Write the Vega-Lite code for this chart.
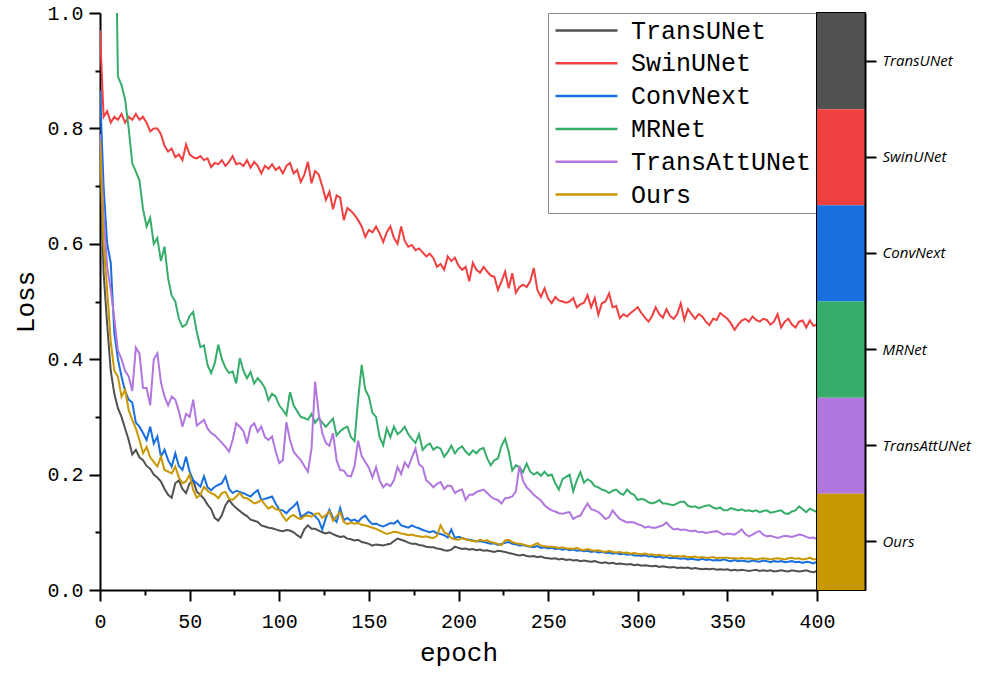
{
"$schema": "https://vega.github.io/schema/vega-lite/v6.json",
"padding": {"left": 12, "top": 3, "right": 5, "bottom": 7},
"bounds": "flush",
"spacing": 0,
"config": {"view": {"stroke": null}},
"resolve": {"scale": {"color": "independent"}, "legend": {"color": "independent"}},
"hconcat": [
{
"width": 717, "height": 577,
"data": {"values": [
{"epoch":0,"TransUNet":0.78,"SwinUNet":0.97,"ConvNext":0.866,"MRNet":2.0,"TransAttUNet":0.79,"Ours":0.78},
{"epoch":2,"TransUNet":0.55,"SwinUNet":0.82,"ConvNext":0.70,"MRNet":1.6,"TransAttUNet":0.65,"Ours":0.60},
{"epoch":4,"TransUNet":0.46,"SwinUNet":0.83,"ConvNext":0.60,"MRNet":1.35,"TransAttUNet":0.56,"Ours":0.52},
{"epoch":6,"TransUNet":0.38,"SwinUNet":0.81,"ConvNext":0.567,"MRNet":1.2,"TransAttUNet":0.52,"Ours":0.43},
{"epoch":8,"TransUNet":0.34,"SwinUNet":0.82,"ConvNext":0.445,"MRNet":1.3,"TransAttUNet":0.47,"Ours":0.38},
{"epoch":10,"TransUNet":0.315,"SwinUNet":0.815,"ConvNext":0.40,"MRNet":0.89,"TransAttUNet":0.415,"Ours":0.37},
{"epoch":12,"TransUNet":0.30,"SwinUNet":0.825,"ConvNext":0.37,"MRNet":0.875,"TransAttUNet":0.40,"Ours":0.335},
{"epoch":14,"TransUNet":0.28,"SwinUNet":0.81,"ConvNext":0.345,"MRNet":0.85,"TransAttUNet":0.38,"Ours":0.347},
{"epoch":16,"TransUNet":0.26,"SwinUNet":0.82,"ConvNext":0.33,"MRNet":0.80,"TransAttUNet":0.37,"Ours":0.312},
{"epoch":18,"TransUNet":0.235,"SwinUNet":0.815,"ConvNext":0.325,"MRNet":0.74,"TransAttUNet":0.345,"Ours":0.295},
{"epoch":20,"TransUNet":0.243,"SwinUNet":0.825,"ConvNext":0.29,"MRNet":0.725,"TransAttUNet":0.42,"Ours":0.28},
{"epoch":22,"TransUNet":0.23,"SwinUNet":0.815,"ConvNext":0.283,"MRNet":0.71,"TransAttUNet":0.41,"Ours":0.26},
{"epoch":24,"TransUNet":0.225,"SwinUNet":0.82,"ConvNext":0.272,"MRNet":0.66,"TransAttUNet":0.35,"Ours":0.237},
{"epoch":26,"TransUNet":0.215,"SwinUNet":0.81,"ConvNext":0.26,"MRNet":0.63,"TransAttUNet":0.35,"Ours":0.248},
{"epoch":28,"TransUNet":0.21,"SwinUNet":0.795,"ConvNext":0.283,"MRNet":0.645,"TransAttUNet":0.32,"Ours":0.23},
{"epoch":30,"TransUNet":0.20,"SwinUNet":0.80,"ConvNext":0.254,"MRNet":0.60,"TransAttUNet":0.40,"Ours":0.222},
{"epoch":32,"TransUNet":0.195,"SwinUNet":0.80,"ConvNext":0.266,"MRNet":0.61,"TransAttUNet":0.41,"Ours":0.214},
{"epoch":34,"TransUNet":0.188,"SwinUNet":0.79,"ConvNext":0.231,"MRNet":0.57,"TransAttUNet":0.36,"Ours":0.231},
{"epoch":36,"TransUNet":0.175,"SwinUNet":0.77,"ConvNext":0.243,"MRNet":0.595,"TransAttUNet":0.335,"Ours":0.208},
{"epoch":38,"TransUNet":0.165,"SwinUNet":0.76,"ConvNext":0.225,"MRNet":0.54,"TransAttUNet":0.32,"Ours":0.205},
{"epoch":40,"TransUNet":0.16,"SwinUNet":0.765,"ConvNext":0.214,"MRNet":0.51,"TransAttUNet":0.335,"Ours":0.202},
{"epoch":42,"TransUNet":0.185,"SwinUNet":0.75,"ConvNext":0.237,"MRNet":0.50,"TransAttUNet":0.33,"Ours":0.214},
{"epoch":44,"TransUNet":0.19,"SwinUNet":0.755,"ConvNext":0.215,"MRNet":0.47,"TransAttUNet":0.31,"Ours":0.195},
{"epoch":46,"TransUNet":0.175,"SwinUNet":0.745,"ConvNext":0.208,"MRNet":0.456,"TransAttUNet":0.283,"Ours":0.185},
{"epoch":48,"TransUNet":0.168,"SwinUNet":0.772,"ConvNext":0.231,"MRNet":0.46,"TransAttUNet":0.305,"Ours":0.188},
{"epoch":50,"TransUNet":0.185,"SwinUNet":0.755,"ConvNext":0.205,"MRNet":0.475,"TransAttUNet":0.30,"Ours":0.20},
{"epoch":52,"TransUNet":0.19,"SwinUNet":0.75,"ConvNext":0.19,"MRNet":0.482,"TransAttUNet":0.33,"Ours":0.173},
{"epoch":54,"TransUNet":0.17,"SwinUNet":0.748,"ConvNext":0.185,"MRNet":0.447,"TransAttUNet":0.285,"Ours":0.16},
{"epoch":56,"TransUNet":0.165,"SwinUNet":0.752,"ConvNext":0.179,"MRNet":0.421,"TransAttUNet":0.29,"Ours":0.165},
{"epoch":58,"TransUNet":0.158,"SwinUNet":0.745,"ConvNext":0.197,"MRNet":0.424,"TransAttUNet":0.295,"Ours":0.179},
{"epoch":60,"TransUNet":0.148,"SwinUNet":0.748,"ConvNext":0.178,"MRNet":0.39,"TransAttUNet":0.28,"Ours":0.172},
{"epoch":62,"TransUNet":0.14,"SwinUNet":0.733,"ConvNext":0.173,"MRNet":0.376,"TransAttUNet":0.272,"Ours":0.168},
{"epoch":64,"TransUNet":0.125,"SwinUNet":0.74,"ConvNext":0.179,"MRNet":0.393,"TransAttUNet":0.268,"Ours":0.165},
{"epoch":66,"TransUNet":0.12,"SwinUNet":0.738,"ConvNext":0.182,"MRNet":0.425,"TransAttUNet":0.262,"Ours":0.159},
{"epoch":68,"TransUNet":0.13,"SwinUNet":0.745,"ConvNext":0.185,"MRNet":0.40,"TransAttUNet":0.255,"Ours":0.168},
{"epoch":70,"TransUNet":0.147,"SwinUNet":0.735,"ConvNext":0.197,"MRNet":0.385,"TransAttUNet":0.248,"Ours":0.17},
{"epoch":72,"TransUNet":0.156,"SwinUNet":0.742,"ConvNext":0.175,"MRNet":0.376,"TransAttUNet":0.24,"Ours":0.158},
{"epoch":74,"TransUNet":0.148,"SwinUNet":0.752,"ConvNext":0.168,"MRNet":0.379,"TransAttUNet":0.26,"Ours":0.156},
{"epoch":76,"TransUNet":0.142,"SwinUNet":0.738,"ConvNext":0.172,"MRNet":0.358,"TransAttUNet":0.289,"Ours":0.162},
{"epoch":78,"TransUNet":0.137,"SwinUNet":0.74,"ConvNext":0.17,"MRNet":0.402,"TransAttUNet":0.283,"Ours":0.168},
{"epoch":80,"TransUNet":0.132,"SwinUNet":0.735,"ConvNext":0.168,"MRNet":0.38,"TransAttUNet":0.275,"Ours":0.16},
{"epoch":82,"TransUNet":0.128,"SwinUNet":0.745,"ConvNext":0.165,"MRNet":0.367,"TransAttUNet":0.254,"Ours":0.159},
{"epoch":84,"TransUNet":0.122,"SwinUNet":0.732,"ConvNext":0.162,"MRNet":0.378,"TransAttUNet":0.283,"Ours":0.155},
{"epoch":86,"TransUNet":0.12,"SwinUNet":0.742,"ConvNext":0.168,"MRNet":0.358,"TransAttUNet":0.289,"Ours":0.15},
{"epoch":88,"TransUNet":0.118,"SwinUNet":0.735,"ConvNext":0.173,"MRNet":0.367,"TransAttUNet":0.274,"Ours":0.152},
{"epoch":90,"TransUNet":0.112,"SwinUNet":0.722,"ConvNext":0.156,"MRNet":0.36,"TransAttUNet":0.283,"Ours":0.156},
{"epoch":92,"TransUNet":0.11,"SwinUNet":0.735,"ConvNext":0.158,"MRNet":0.35,"TransAttUNet":0.265,"Ours":0.148},
{"epoch":94,"TransUNet":0.108,"SwinUNet":0.73,"ConvNext":0.16,"MRNet":0.329,"TransAttUNet":0.26,"Ours":0.141},
{"epoch":96,"TransUNet":0.107,"SwinUNet":0.738,"ConvNext":0.162,"MRNet":0.34,"TransAttUNet":0.266,"Ours":0.145},
{"epoch":98,"TransUNet":0.105,"SwinUNet":0.728,"ConvNext":0.15,"MRNet":0.335,"TransAttUNet":0.24,"Ours":0.14},
{"epoch":100,"TransUNet":0.103,"SwinUNet":0.733,"ConvNext":0.139,"MRNet":0.32,"TransAttUNet":0.22,"Ours":0.139},
{"epoch":102,"TransUNet":0.102,"SwinUNet":0.722,"ConvNext":0.138,"MRNet":0.312,"TransAttUNet":0.225,"Ours":0.128},
{"epoch":104,"TransUNet":0.104,"SwinUNet":0.735,"ConvNext":0.133,"MRNet":0.303,"TransAttUNet":0.291,"Ours":0.12},
{"epoch":106,"TransUNet":0.103,"SwinUNet":0.74,"ConvNext":0.14,"MRNet":0.343,"TransAttUNet":0.26,"Ours":0.127},
{"epoch":108,"TransUNet":0.10,"SwinUNet":0.722,"ConvNext":0.145,"MRNet":0.32,"TransAttUNet":0.24,"Ours":0.13},
{"epoch":110,"TransUNet":0.095,"SwinUNet":0.728,"ConvNext":0.152,"MRNet":0.31,"TransAttUNet":0.232,"Ours":0.125},
{"epoch":112,"TransUNet":0.091,"SwinUNet":0.707,"ConvNext":0.127,"MRNet":0.30,"TransAttUNet":0.225,"Ours":0.123},
{"epoch":114,"TransUNet":0.105,"SwinUNet":0.72,"ConvNext":0.13,"MRNet":0.298,"TransAttUNet":0.215,"Ours":0.128},
{"epoch":116,"TransUNet":0.112,"SwinUNet":0.742,"ConvNext":0.135,"MRNet":0.295,"TransAttUNet":0.205,"Ours":0.129},
{"epoch":118,"TransUNet":0.106,"SwinUNet":0.705,"ConvNext":0.133,"MRNet":0.305,"TransAttUNet":0.245,"Ours":0.127},
{"epoch":120,"TransUNet":0.106,"SwinUNet":0.726,"ConvNext":0.128,"MRNet":0.29,"TransAttUNet":0.361,"Ours":0.132},
{"epoch":122,"TransUNet":0.103,"SwinUNet":0.72,"ConvNext":0.121,"MRNet":0.298,"TransAttUNet":0.306,"Ours":0.133},
{"epoch":124,"TransUNet":0.10,"SwinUNet":0.70,"ConvNext":0.105,"MRNet":0.29,"TransAttUNet":0.272,"Ours":0.125},
{"epoch":126,"TransUNet":0.098,"SwinUNet":0.676,"ConvNext":0.125,"MRNet":0.283,"TransAttUNet":0.255,"Ours":0.13},
{"epoch":128,"TransUNet":0.10,"SwinUNet":0.69,"ConvNext":0.139,"MRNet":0.29,"TransAttUNet":0.25,"Ours":0.136},
{"epoch":130,"TransUNet":0.097,"SwinUNet":0.66,"ConvNext":0.125,"MRNet":0.297,"TransAttUNet":0.272,"Ours":0.12},
{"epoch":132,"TransUNet":0.094,"SwinUNet":0.684,"ConvNext":0.118,"MRNet":0.268,"TransAttUNet":0.225,"Ours":0.128},
{"epoch":134,"TransUNet":0.092,"SwinUNet":0.68,"ConvNext":0.142,"MRNet":0.275,"TransAttUNet":0.208,"Ours":0.135},
{"epoch":136,"TransUNet":0.093,"SwinUNet":0.641,"ConvNext":0.121,"MRNet":0.28,"TransAttUNet":0.207,"Ours":0.118},
{"epoch":138,"TransUNet":0.089,"SwinUNet":0.662,"ConvNext":0.125,"MRNet":0.283,"TransAttUNet":0.198,"Ours":0.114},
{"epoch":140,"TransUNet":0.088,"SwinUNet":0.657,"ConvNext":0.12,"MRNet":0.265,"TransAttUNet":0.197,"Ours":0.117},
{"epoch":142,"TransUNet":0.086,"SwinUNet":0.65,"ConvNext":0.122,"MRNet":0.258,"TransAttUNet":0.215,"Ours":0.115},
{"epoch":144,"TransUNet":0.087,"SwinUNet":0.641,"ConvNext":0.118,"MRNet":0.33,"TransAttUNet":0.259,"Ours":0.116},
{"epoch":146,"TransUNet":0.083,"SwinUNet":0.63,"ConvNext":0.125,"MRNet":0.39,"TransAttUNet":0.232,"Ours":0.113},
{"epoch":148,"TransUNet":0.082,"SwinUNet":0.612,"ConvNext":0.129,"MRNet":0.347,"TransAttUNet":0.222,"Ours":0.112},
{"epoch":150,"TransUNet":0.08,"SwinUNet":0.624,"ConvNext":0.12,"MRNet":0.335,"TransAttUNet":0.212,"Ours":0.11},
{"epoch":152,"TransUNet":0.077,"SwinUNet":0.62,"ConvNext":0.114,"MRNet":0.307,"TransAttUNet":0.195,"Ours":0.108},
{"epoch":154,"TransUNet":0.079,"SwinUNet":0.63,"ConvNext":0.115,"MRNet":0.30,"TransAttUNet":0.213,"Ours":0.106},
{"epoch":156,"TransUNet":0.078,"SwinUNet":0.618,"ConvNext":0.112,"MRNet":0.265,"TransAttUNet":0.19,"Ours":0.103},
{"epoch":158,"TransUNet":0.077,"SwinUNet":0.603,"ConvNext":0.11,"MRNet":0.251,"TransAttUNet":0.178,"Ours":0.10},
{"epoch":160,"TransUNet":0.079,"SwinUNet":0.62,"ConvNext":0.113,"MRNet":0.28,"TransAttUNet":0.184,"Ours":0.097},
{"epoch":162,"TransUNet":0.08,"SwinUNet":0.63,"ConvNext":0.116,"MRNet":0.265,"TransAttUNet":0.18,"Ours":0.099},
{"epoch":164,"TransUNet":0.085,"SwinUNet":0.61,"ConvNext":0.115,"MRNet":0.283,"TransAttUNet":0.19,"Ours":0.101},
{"epoch":166,"TransUNet":0.089,"SwinUNet":0.60,"ConvNext":0.12,"MRNet":0.27,"TransAttUNet":0.213,"Ours":0.10},
{"epoch":168,"TransUNet":0.087,"SwinUNet":0.63,"ConvNext":0.112,"MRNet":0.275,"TransAttUNet":0.201,"Ours":0.098},
{"epoch":170,"TransUNet":0.085,"SwinUNet":0.605,"ConvNext":0.11,"MRNet":0.283,"TransAttUNet":0.221,"Ours":0.097},
{"epoch":172,"TransUNet":0.082,"SwinUNet":0.595,"ConvNext":0.108,"MRNet":0.27,"TransAttUNet":0.213,"Ours":0.095},
{"epoch":174,"TransUNet":0.08,"SwinUNet":0.598,"ConvNext":0.112,"MRNet":0.262,"TransAttUNet":0.23,"Ours":0.096},
{"epoch":176,"TransUNet":0.08,"SwinUNet":0.589,"ConvNext":0.109,"MRNet":0.255,"TransAttUNet":0.245,"Ours":0.094},
{"epoch":178,"TransUNet":0.078,"SwinUNet":0.592,"ConvNext":0.107,"MRNet":0.27,"TransAttUNet":0.218,"Ours":0.093},
{"epoch":180,"TransUNet":0.077,"SwinUNet":0.585,"ConvNext":0.104,"MRNet":0.243,"TransAttUNet":0.213,"Ours":0.092},
{"epoch":182,"TransUNet":0.075,"SwinUNet":0.578,"ConvNext":0.102,"MRNet":0.25,"TransAttUNet":0.19,"Ours":0.093},
{"epoch":184,"TransUNet":0.074,"SwinUNet":0.583,"ConvNext":0.10,"MRNet":0.254,"TransAttUNet":0.185,"Ours":0.091},
{"epoch":186,"TransUNet":0.074,"SwinUNet":0.575,"ConvNext":0.102,"MRNet":0.243,"TransAttUNet":0.178,"Ours":0.09},
{"epoch":188,"TransUNet":0.072,"SwinUNet":0.56,"ConvNext":0.098,"MRNet":0.248,"TransAttUNet":0.184,"Ours":0.094},
{"epoch":190,"TransUNet":0.071,"SwinUNet":0.565,"ConvNext":0.097,"MRNet":0.245,"TransAttUNet":0.187,"Ours":0.112},
{"epoch":192,"TransUNet":0.069,"SwinUNet":0.555,"ConvNext":0.095,"MRNet":0.231,"TransAttUNet":0.175,"Ours":0.10},
{"epoch":194,"TransUNet":0.068,"SwinUNet":0.578,"ConvNext":0.091,"MRNet":0.239,"TransAttUNet":0.181,"Ours":0.097},
{"epoch":196,"TransUNet":0.07,"SwinUNet":0.57,"ConvNext":0.105,"MRNet":0.25,"TransAttUNet":0.18,"Ours":0.09},
{"epoch":198,"TransUNet":0.075,"SwinUNet":0.576,"ConvNext":0.09,"MRNet":0.237,"TransAttUNet":0.168,"Ours":0.088},
{"epoch":200,"TransUNet":0.073,"SwinUNet":0.562,"ConvNext":0.092,"MRNet":0.245,"TransAttUNet":0.172,"Ours":0.087},
{"epoch":202,"TransUNet":0.071,"SwinUNet":0.555,"ConvNext":0.09,"MRNet":0.249,"TransAttUNet":0.174,"Ours":0.09},
{"epoch":204,"TransUNet":0.072,"SwinUNet":0.56,"ConvNext":0.088,"MRNet":0.24,"TransAttUNet":0.156,"Ours":0.088},
{"epoch":206,"TransUNet":0.07,"SwinUNet":0.535,"ConvNext":0.087,"MRNet":0.234,"TransAttUNet":0.165,"Ours":0.086},
{"epoch":208,"TransUNet":0.071,"SwinUNet":0.567,"ConvNext":0.086,"MRNet":0.242,"TransAttUNet":0.165,"Ours":0.085},
{"epoch":210,"TransUNet":0.069,"SwinUNet":0.555,"ConvNext":0.084,"MRNet":0.237,"TransAttUNet":0.17,"Ours":0.084},
{"epoch":212,"TransUNet":0.07,"SwinUNet":0.55,"ConvNext":0.085,"MRNet":0.244,"TransAttUNet":0.172,"Ours":0.087},
{"epoch":214,"TransUNet":0.068,"SwinUNet":0.56,"ConvNext":0.083,"MRNet":0.246,"TransAttUNet":0.174,"Ours":0.085},
{"epoch":216,"TransUNet":0.069,"SwinUNet":0.552,"ConvNext":0.082,"MRNet":0.228,"TransAttUNet":0.168,"Ours":0.086},
{"epoch":218,"TransUNet":0.067,"SwinUNet":0.545,"ConvNext":0.08,"MRNet":0.216,"TransAttUNet":0.162,"Ours":0.083},
{"epoch":220,"TransUNet":0.066,"SwinUNet":0.543,"ConvNext":0.081,"MRNet":0.225,"TransAttUNet":0.158,"Ours":0.082},
{"epoch":222,"TransUNet":0.068,"SwinUNet":0.52,"ConvNext":0.078,"MRNet":0.228,"TransAttUNet":0.156,"Ours":0.08},
{"epoch":224,"TransUNet":0.067,"SwinUNet":0.535,"ConvNext":0.08,"MRNet":0.25,"TransAttUNet":0.15,"Ours":0.078},
{"epoch":226,"TransUNet":0.066,"SwinUNet":0.552,"ConvNext":0.082,"MRNet":0.262,"TransAttUNet":0.159,"Ours":0.086},
{"epoch":228,"TransUNet":0.064,"SwinUNet":0.523,"ConvNext":0.083,"MRNet":0.24,"TransAttUNet":0.16,"Ours":0.087},
{"epoch":230,"TransUNet":0.063,"SwinUNet":0.549,"ConvNext":0.08,"MRNet":0.207,"TransAttUNet":0.162,"Ours":0.083},
{"epoch":232,"TransUNet":0.061,"SwinUNet":0.515,"ConvNext":0.079,"MRNet":0.216,"TransAttUNet":0.171,"Ours":0.081},
{"epoch":234,"TransUNet":0.06,"SwinUNet":0.525,"ConvNext":0.077,"MRNet":0.213,"TransAttUNet":0.215,"Ours":0.08},
{"epoch":236,"TransUNet":0.061,"SwinUNet":0.529,"ConvNext":0.078,"MRNet":0.204,"TransAttUNet":0.189,"Ours":0.079},
{"epoch":238,"TransUNet":0.059,"SwinUNet":0.525,"ConvNext":0.076,"MRNet":0.219,"TransAttUNet":0.178,"Ours":0.077},
{"epoch":240,"TransUNet":0.058,"SwinUNet":0.535,"ConvNext":0.075,"MRNet":0.205,"TransAttUNet":0.172,"Ours":0.075},
{"epoch":242,"TransUNet":0.059,"SwinUNet":0.558,"ConvNext":0.074,"MRNet":0.20,"TransAttUNet":0.165,"Ours":0.078},
{"epoch":244,"TransUNet":0.057,"SwinUNet":0.52,"ConvNext":0.076,"MRNet":0.204,"TransAttUNet":0.16,"Ours":0.081},
{"epoch":246,"TransUNet":0.058,"SwinUNet":0.508,"ConvNext":0.073,"MRNet":0.198,"TransAttUNet":0.155,"Ours":0.077},
{"epoch":248,"TransUNet":0.056,"SwinUNet":0.523,"ConvNext":0.074,"MRNet":0.205,"TransAttUNet":0.147,"Ours":0.076},
{"epoch":250,"TransUNet":0.055,"SwinUNet":0.505,"ConvNext":0.072,"MRNet":0.198,"TransAttUNet":0.142,"Ours":0.075},
{"epoch":252,"TransUNet":0.054,"SwinUNet":0.497,"ConvNext":0.073,"MRNet":0.20,"TransAttUNet":0.138,"Ours":0.075},
{"epoch":254,"TransUNet":0.055,"SwinUNet":0.508,"ConvNext":0.071,"MRNet":0.185,"TransAttUNet":0.136,"Ours":0.074},
{"epoch":256,"TransUNet":0.053,"SwinUNet":0.502,"ConvNext":0.072,"MRNet":0.174,"TransAttUNet":0.133,"Ours":0.073},
{"epoch":258,"TransUNet":0.054,"SwinUNet":0.50,"ConvNext":0.07,"MRNet":0.192,"TransAttUNet":0.132,"Ours":0.074},
{"epoch":260,"TransUNet":0.052,"SwinUNet":0.498,"ConvNext":0.071,"MRNet":0.196,"TransAttUNet":0.134,"Ours":0.072},
{"epoch":262,"TransUNet":0.053,"SwinUNet":0.50,"ConvNext":0.069,"MRNet":0.20,"TransAttUNet":0.135,"Ours":0.072},
{"epoch":264,"TransUNet":0.051,"SwinUNet":0.506,"ConvNext":0.07,"MRNet":0.171,"TransAttUNet":0.123,"Ours":0.071},
{"epoch":266,"TransUNet":0.052,"SwinUNet":0.49,"ConvNext":0.068,"MRNet":0.19,"TransAttUNet":0.127,"Ours":0.073},
{"epoch":268,"TransUNet":0.05,"SwinUNet":0.495,"ConvNext":0.069,"MRNet":0.204,"TransAttUNet":0.129,"Ours":0.07},
{"epoch":270,"TransUNet":0.051,"SwinUNet":0.498,"ConvNext":0.067,"MRNet":0.186,"TransAttUNet":0.14,"Ours":0.069},
{"epoch":272,"TransUNet":0.05,"SwinUNet":0.511,"ConvNext":0.068,"MRNet":0.192,"TransAttUNet":0.15,"Ours":0.071},
{"epoch":274,"TransUNet":0.049,"SwinUNet":0.49,"ConvNext":0.066,"MRNet":0.188,"TransAttUNet":0.14,"Ours":0.069},
{"epoch":276,"TransUNet":0.05,"SwinUNet":0.506,"ConvNext":0.067,"MRNet":0.18,"TransAttUNet":0.138,"Ours":0.068},
{"epoch":278,"TransUNet":0.048,"SwinUNet":0.477,"ConvNext":0.065,"MRNet":0.178,"TransAttUNet":0.135,"Ours":0.069},
{"epoch":280,"TransUNet":0.047,"SwinUNet":0.497,"ConvNext":0.066,"MRNet":0.174,"TransAttUNet":0.13,"Ours":0.067},
{"epoch":282,"TransUNet":0.048,"SwinUNet":0.50,"ConvNext":0.064,"MRNet":0.172,"TransAttUNet":0.123,"Ours":0.066},
{"epoch":284,"TransUNet":0.046,"SwinUNet":0.514,"ConvNext":0.065,"MRNet":0.168,"TransAttUNet":0.126,"Ours":0.068},
{"epoch":286,"TransUNet":0.047,"SwinUNet":0.49,"ConvNext":0.063,"MRNet":0.172,"TransAttUNet":0.138,"Ours":0.066},
{"epoch":288,"TransUNet":0.045,"SwinUNet":0.492,"ConvNext":0.064,"MRNet":0.174,"TransAttUNet":0.13,"Ours":0.065},
{"epoch":290,"TransUNet":0.046,"SwinUNet":0.471,"ConvNext":0.062,"MRNet":0.168,"TransAttUNet":0.123,"Ours":0.066},
{"epoch":292,"TransUNet":0.045,"SwinUNet":0.478,"ConvNext":0.063,"MRNet":0.165,"TransAttUNet":0.12,"Ours":0.064},
{"epoch":294,"TransUNet":0.044,"SwinUNet":0.474,"ConvNext":0.061,"MRNet":0.174,"TransAttUNet":0.117,"Ours":0.065},
{"epoch":296,"TransUNet":0.045,"SwinUNet":0.48,"ConvNext":0.062,"MRNet":0.168,"TransAttUNet":0.118,"Ours":0.063},
{"epoch":298,"TransUNet":0.043,"SwinUNet":0.485,"ConvNext":0.06,"MRNet":0.165,"TransAttUNet":0.117,"Ours":0.064},
{"epoch":300,"TransUNet":0.044,"SwinUNet":0.49,"ConvNext":0.06,"MRNet":0.156,"TransAttUNet":0.114,"Ours":0.063},
{"epoch":302,"TransUNet":0.042,"SwinUNet":0.48,"ConvNext":0.059,"MRNet":0.158,"TransAttUNet":0.112,"Ours":0.062},
{"epoch":304,"TransUNet":0.043,"SwinUNet":0.472,"ConvNext":0.06,"MRNet":0.156,"TransAttUNet":0.108,"Ours":0.063},
{"epoch":306,"TransUNet":0.042,"SwinUNet":0.465,"ConvNext":0.058,"MRNet":0.152,"TransAttUNet":0.11,"Ours":0.061},
{"epoch":308,"TransUNet":0.041,"SwinUNet":0.475,"ConvNext":0.059,"MRNet":0.15,"TransAttUNet":0.108,"Ours":0.062},
{"epoch":310,"TransUNet":0.042,"SwinUNet":0.49,"ConvNext":0.057,"MRNet":0.152,"TransAttUNet":0.108,"Ours":0.06},
{"epoch":312,"TransUNet":0.04,"SwinUNet":0.478,"ConvNext":0.058,"MRNet":0.156,"TransAttUNet":0.11,"Ours":0.061},
{"epoch":314,"TransUNet":0.041,"SwinUNet":0.472,"ConvNext":0.056,"MRNet":0.15,"TransAttUNet":0.112,"Ours":0.06},
{"epoch":316,"TransUNet":0.04,"SwinUNet":0.487,"ConvNext":0.057,"MRNet":0.15,"TransAttUNet":0.117,"Ours":0.059},
{"epoch":318,"TransUNet":0.039,"SwinUNet":0.475,"ConvNext":0.055,"MRNet":0.148,"TransAttUNet":0.11,"Ours":0.06},
{"epoch":320,"TransUNet":0.04,"SwinUNet":0.47,"ConvNext":0.056,"MRNet":0.147,"TransAttUNet":0.105,"Ours":0.058},
{"epoch":322,"TransUNet":0.038,"SwinUNet":0.478,"ConvNext":0.055,"MRNet":0.15,"TransAttUNet":0.106,"Ours":0.059},
{"epoch":324,"TransUNet":0.039,"SwinUNet":0.497,"ConvNext":0.054,"MRNet":0.153,"TransAttUNet":0.104,"Ours":0.058},
{"epoch":326,"TransUNet":0.038,"SwinUNet":0.468,"ConvNext":0.055,"MRNet":0.153,"TransAttUNet":0.105,"Ours":0.059},
{"epoch":328,"TransUNet":0.039,"SwinUNet":0.487,"ConvNext":0.053,"MRNet":0.146,"TransAttUNet":0.103,"Ours":0.057},
{"epoch":330,"TransUNet":0.037,"SwinUNet":0.478,"ConvNext":0.054,"MRNet":0.144,"TransAttUNet":0.102,"Ours":0.057},
{"epoch":332,"TransUNet":0.038,"SwinUNet":0.47,"ConvNext":0.053,"MRNet":0.145,"TransAttUNet":0.103,"Ours":0.058},
{"epoch":334,"TransUNet":0.037,"SwinUNet":0.478,"ConvNext":0.052,"MRNet":0.142,"TransAttUNet":0.10,"Ours":0.056},
{"epoch":336,"TransUNet":0.036,"SwinUNet":0.474,"ConvNext":0.054,"MRNet":0.144,"TransAttUNet":0.101,"Ours":0.057},
{"epoch":338,"TransUNet":0.037,"SwinUNet":0.465,"ConvNext":0.052,"MRNet":0.146,"TransAttUNet":0.099,"Ours":0.056},
{"epoch":340,"TransUNet":0.036,"SwinUNet":0.459,"ConvNext":0.053,"MRNet":0.147,"TransAttUNet":0.10,"Ours":0.056},
{"epoch":342,"TransUNet":0.037,"SwinUNet":0.47,"ConvNext":0.051,"MRNet":0.143,"TransAttUNet":0.101,"Ours":0.057},
{"epoch":344,"TransUNet":0.035,"SwinUNet":0.468,"ConvNext":0.052,"MRNet":0.141,"TransAttUNet":0.102,"Ours":0.055},
{"epoch":346,"TransUNet":0.036,"SwinUNet":0.48,"ConvNext":0.051,"MRNet":0.143,"TransAttUNet":0.099,"Ours":0.056},
{"epoch":348,"TransUNet":0.035,"SwinUNet":0.475,"ConvNext":0.053,"MRNet":0.138,"TransAttUNet":0.096,"Ours":0.056},
{"epoch":350,"TransUNet":0.036,"SwinUNet":0.47,"ConvNext":0.051,"MRNet":0.138,"TransAttUNet":0.098,"Ours":0.056},
{"epoch":352,"TransUNet":0.034,"SwinUNet":0.462,"ConvNext":0.05,"MRNet":0.142,"TransAttUNet":0.097,"Ours":0.055},
{"epoch":354,"TransUNet":0.035,"SwinUNet":0.451,"ConvNext":0.052,"MRNet":0.14,"TransAttUNet":0.096,"Ours":0.055},
{"epoch":356,"TransUNet":0.034,"SwinUNet":0.46,"ConvNext":0.05,"MRNet":0.138,"TransAttUNet":0.10,"Ours":0.054},
{"epoch":358,"TransUNet":0.035,"SwinUNet":0.467,"ConvNext":0.051,"MRNet":0.14,"TransAttUNet":0.105,"Ours":0.056},
{"epoch":360,"TransUNet":0.034,"SwinUNet":0.47,"ConvNext":0.05,"MRNet":0.137,"TransAttUNet":0.097,"Ours":0.054},
{"epoch":362,"TransUNet":0.033,"SwinUNet":0.465,"ConvNext":0.049,"MRNet":0.138,"TransAttUNet":0.093,"Ours":0.055},
{"epoch":364,"TransUNet":0.034,"SwinUNet":0.474,"ConvNext":0.051,"MRNet":0.136,"TransAttUNet":0.096,"Ours":0.054},
{"epoch":366,"TransUNet":0.035,"SwinUNet":0.468,"ConvNext":0.05,"MRNet":0.138,"TransAttUNet":0.10,"Ours":0.053},
{"epoch":368,"TransUNet":0.033,"SwinUNet":0.465,"ConvNext":0.049,"MRNet":0.135,"TransAttUNet":0.102,"Ours":0.054},
{"epoch":370,"TransUNet":0.034,"SwinUNet":0.47,"ConvNext":0.051,"MRNet":0.137,"TransAttUNet":0.096,"Ours":0.055},
{"epoch":372,"TransUNet":0.033,"SwinUNet":0.468,"ConvNext":0.05,"MRNet":0.138,"TransAttUNet":0.093,"Ours":0.054},
{"epoch":374,"TransUNet":0.034,"SwinUNet":0.46,"ConvNext":0.048,"MRNet":0.134,"TransAttUNet":0.094,"Ours":0.053},
{"epoch":376,"TransUNet":0.032,"SwinUNet":0.465,"ConvNext":0.05,"MRNet":0.135,"TransAttUNet":0.092,"Ours":0.054},
{"epoch":378,"TransUNet":0.033,"SwinUNet":0.478,"ConvNext":0.049,"MRNet":0.137,"TransAttUNet":0.09,"Ours":0.055},
{"epoch":380,"TransUNet":0.034,"SwinUNet":0.455,"ConvNext":0.05,"MRNet":0.138,"TransAttUNet":0.092,"Ours":0.054},
{"epoch":382,"TransUNet":0.033,"SwinUNet":0.465,"ConvNext":0.048,"MRNet":0.133,"TransAttUNet":0.094,"Ours":0.053},
{"epoch":384,"TransUNet":0.032,"SwinUNet":0.47,"ConvNext":0.049,"MRNet":0.132,"TransAttUNet":0.093,"Ours":0.055},
{"epoch":386,"TransUNet":0.034,"SwinUNet":0.46,"ConvNext":0.05,"MRNet":0.136,"TransAttUNet":0.092,"Ours":0.056},
{"epoch":388,"TransUNet":0.033,"SwinUNet":0.455,"ConvNext":0.048,"MRNet":0.138,"TransAttUNet":0.094,"Ours":0.054},
{"epoch":390,"TransUNet":0.032,"SwinUNet":0.465,"ConvNext":0.049,"MRNet":0.145,"TransAttUNet":0.096,"Ours":0.055},
{"epoch":392,"TransUNet":0.033,"SwinUNet":0.467,"ConvNext":0.047,"MRNet":0.14,"TransAttUNet":0.095,"Ours":0.053},
{"epoch":394,"TransUNet":0.034,"SwinUNet":0.455,"ConvNext":0.049,"MRNet":0.135,"TransAttUNet":0.092,"Ours":0.054},
{"epoch":396,"TransUNet":0.032,"SwinUNet":0.467,"ConvNext":0.048,"MRNet":0.141,"TransAttUNet":0.09,"Ours":0.056},
{"epoch":398,"TransUNet":0.031,"SwinUNet":0.458,"ConvNext":0.046,"MRNet":0.138,"TransAttUNet":0.091,"Ours":0.053},
{"epoch":400,"TransUNet":0.033,"SwinUNet":0.46,"ConvNext":0.049,"MRNet":0.135,"TransAttUNet":0.088,"Ours":0.054}
]},
"transform": [{"fold": ["TransUNet","SwinUNet","ConvNext","MRNet","TransAttUNet","Ours"], "as": ["model","loss"]}],
"mark": {"type": "line", "strokeWidth": 2, "clip": true},
"encoding": {
"x": {"field": "epoch", "type": "quantitative",
 "scale": {"domain": [0,400], "nice": false},
 "axis": {"values": [0,25,50,75,100,125,150,175,200,225,250,275,300,325,350,375,400],
  "labelExpr": "datum.value % 50 === 0 ? datum.label : ''",
  "tickSize": {"condition": {"test": "datum.value % 50 === 0", "value": 11}, "value": 5},
  "title": "epoch", "titleFont": "Liberation Mono", "titleFontSize": 26, "titleFontWeight": "normal", "titleColor": "black", "titlePadding": 8,
  "labelFont": "Liberation Mono", "labelFontSize": 20, "labelColor": "black", "labelPadding": 10, "labelOverlap": false, "labelFlush": false,
  "domainColor": "black", "domainWidth": 2, "tickColor": "black", "tickWidth": 2, "grid": false}},
"y": {"field": "loss", "type": "quantitative",
 "scale": {"domain": [0,1], "nice": false, "zero": false},
 "axis": {"values": [0,0.1,0.2,0.3,0.4,0.5,0.6,0.7,0.8,0.9,1.0],
  "labelExpr": "round(datum.value*10) % 2 === 0 ? format(datum.value, '.1f') : ''",
  "tickSize": {"condition": {"test": "round(datum.value*10) % 2 === 0", "value": 11}, "value": 5},
  "title": "Loss", "titleFont": "Liberation Mono", "titleFontSize": 26, "titleFontWeight": "normal", "titleColor": "black", "titlePadding": 8,
  "labelFont": "Liberation Mono", "labelFontSize": 20, "labelColor": "black", "labelPadding": 6, "labelOverlap": false, "labelFlush": false,
  "domainColor": "black", "domainWidth": 2, "tickColor": "black", "tickWidth": 2, "grid": false}},
"color": {"field": "model", "type": "nominal",
 "scale": {"domain": ["TransUNet","SwinUNet","ConvNext","MRNet","TransAttUNet","Ours"], "range": ["#515151","#f14040","#1a6fdf","#37ad6b","#b177de","#c99700"]},
 "legend": {"title": null, "orient": "top-right", "offset": 0,
  "symbolType": "M-1,0H5.2", "symbolSize": 400, "symbolStrokeWidth": 2.5,
  "labelFont": "Liberation Mono", "labelFontSize": 25, "labelColor": "black", "labelLimit": 400,
  "labelOffset": 53, "rowPadding": 6.8, "padding": 5,
  "fillColor": "white", "strokeColor": "#8c8c8c"}}
}
},
{
"width": 48, "height": 577,
"view": {"stroke": "black", "strokeWidth": 2},
"data": {"values": [{"model":"TransUNet"},{"model":"SwinUNet"},{"model":"ConvNext"},{"model":"MRNet"},{"model":"TransAttUNet"},{"model":"Ours"}]},
"mark": {"type": "rect"},
"encoding": {
"y": {"field": "model", "type": "nominal", "sort": ["TransUNet","SwinUNet","ConvNext","MRNet","TransAttUNet","Ours"],
 "scale": {"paddingInner": 0, "paddingOuter": 0},
 "axis": {"orient": "right", "title": null, "labelFont": "Open Sans", "labelFontStyle": "italic", "labelFontSize": 15, "labelColor": "black",
  "tickSize": 11, "tickWidth": 2, "tickColor": "black", "domainColor": "black", "domainWidth": 2, "labelPadding": 6}},
"color": {"field": "model", "type": "nominal",
 "scale": {"domain": ["TransUNet","SwinUNet","ConvNext","MRNet","TransAttUNet","Ours"], "range": ["#515151","#f14040","#1a6fdf","#37ad6b","#b177de","#c99700"]},
 "legend": null}
}
}
]
}
